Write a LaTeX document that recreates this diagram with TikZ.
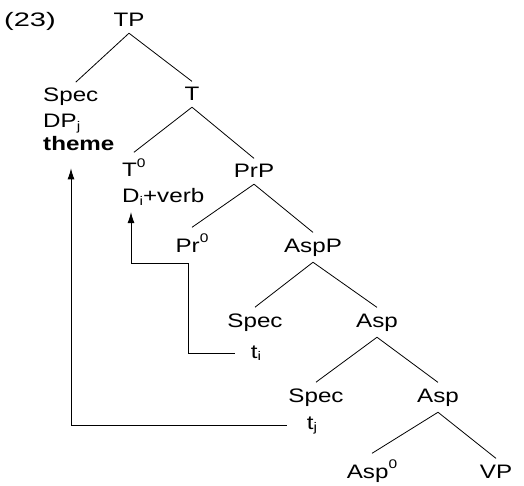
\documentclass[tikz,border=0pt]{standalone}
\usepackage{fontspec}
\setmainfont{Liberation Sans}[FakeStretch=1.24]
\usetikzlibrary{arrows.meta}
\newcommand\up[1]{\raisebox{0.5em}{\fontsize{12.5}{12.5}\selectfont #1}}
\newcommand\dn[1]{\raisebox{-0.15em}{\fontsize{12.5}{12.5}\selectfont #1}}

\begin{document}
\begin{tikzpicture}[x=1pt,y=1pt]
    \tikzstyle{every node}+=[inner sep=0pt, font=\fontsize{19.5}{22}\selectfont]
    \tikzstyle{cat}=[anchor=base, inner ysep=6pt]
    \tikzstyle{branch}=[line width=0.8pt]
    \tikzstyle{move}=[line width=0.9pt, -{Latex[length=11pt,width=7pt]}]
    \useasboundingbox (0,0) rectangle (524,-486);
    % labels
    \node[cat] (num) at (30,-27) {\scalebox{1.2}[1]{(23)}};
    \node[cat] (tp) at (129,-27) {TP};
    \node[cat, anchor=base west] (specA) at (43,-102) {Spec};
    \node[cat, anchor=base west] (dpj) at (43,-128) {DP\dn{j}};
    \node[cat, anchor=base west] (theme) at (43,-151) {\bfseries theme};
    \node[cat] (t) at (192,-101) {T};
    \node[cat, anchor=base west] (tzero) at (122,-177) {T\up{0}};
    \node[cat, anchor=base west] (di) at (122,-203) {D\dn{i}+verb};
    \node[cat] (prp) at (254,-178) {PrP};
    \node[cat] (przero) at (192,-252) {Pr\up{0}};
    \node[cat] (aspp) at (313,-252) {AspP};
    \node[cat] (specB) at (255,-327) {Spec};
    \node[cat] (ti) at (256,-358) {t\dn{i}};
    \node[cat] (aspA) at (377,-327) {Asp};
    \node[cat] (specC) at (316,-402) {Spec};
    \node[cat] (tj) at (312,-429) {t\dn{j}};
    \node[cat] (aspB) at (438,-402) {Asp};
    \node[cat] (aspzero) at (372,-478) {Asp\up{0}};
    \node[cat] (vp) at (496,-478) {VP};
    % branches
    \draw[branch] (tp.south) -- ([xshift=5pt]specA.north);
    \draw[branch] (tp.south) -- (t.north);
    \draw[branch] (t.south) -- (tzero.north);
    \draw[branch] (t.south) -- (prp.north);
    \draw[branch] (prp.south) -- (przero.north);
    \draw[branch] (prp.south) -- (aspp.north);
    \draw[branch] (aspp.south) -- (specB.north);
    \draw[branch] (aspp.south) -- (aspA.north);
    \draw[branch] (aspA.south) -- (specC.north);
    \draw[branch] (aspA.south) -- (aspB.north);
    \draw[branch] (aspB.south) -- (aspzero.north);
    \draw[branch] (aspB.south) -- (vp.north);
    % movement
    \coordinate (bendi) at (188,-263);
    \draw[move] ([xshift=-16pt]ti.west) -| (bendi) -| ([xshift=9pt]di.south west);
    \draw[move] ([xshift=-20pt]tj.west) -| ([xshift=28pt,yshift=-11pt]theme.south west);
\end{tikzpicture}
\end{document}
